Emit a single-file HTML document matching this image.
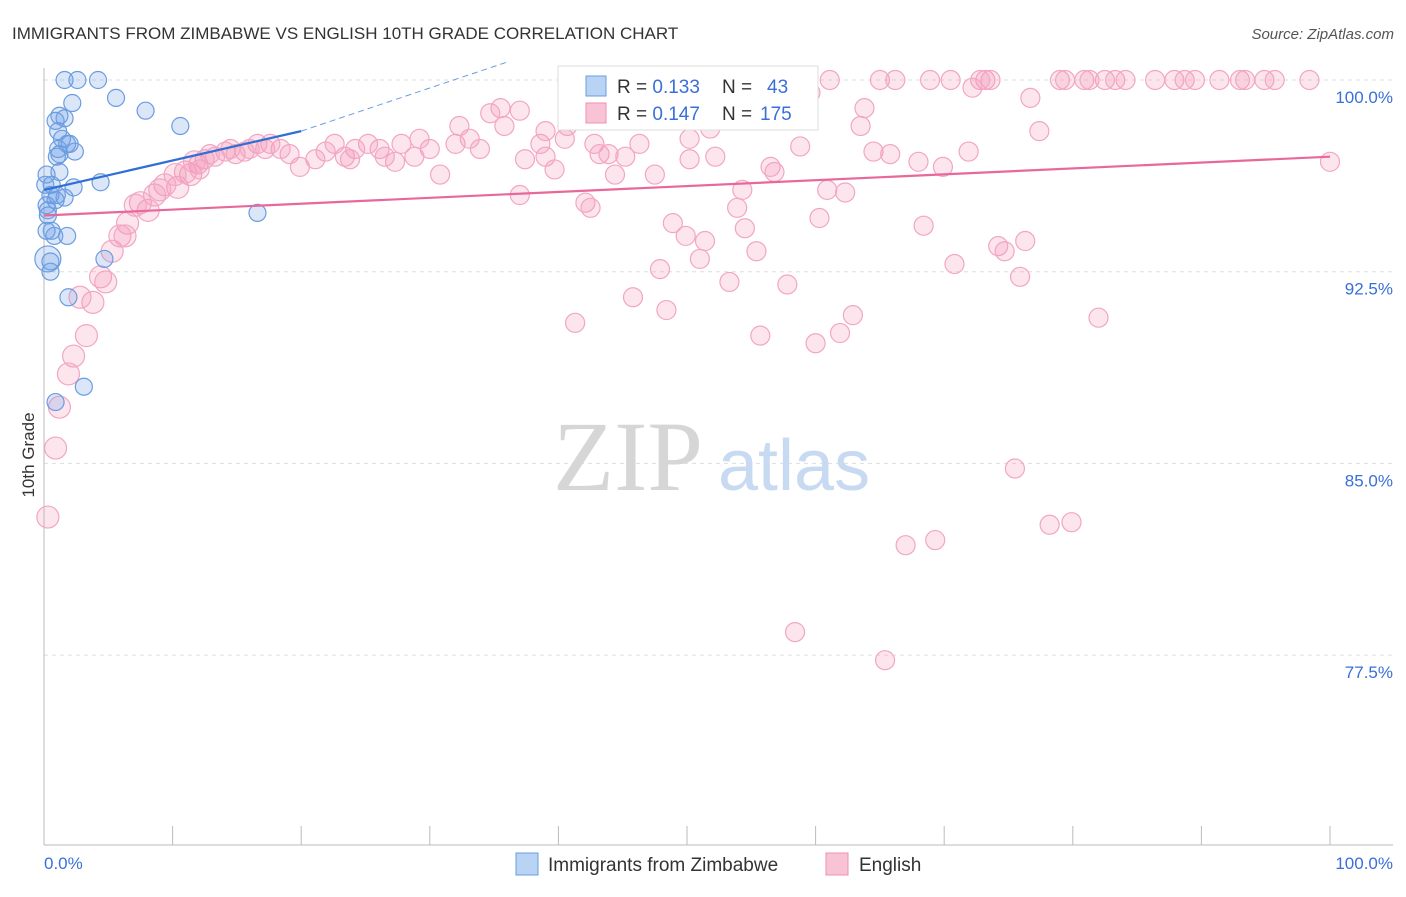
<!DOCTYPE html>
<html><head><meta charset="utf-8"><style>
body{margin:0;background:#fff;font-family:"Liberation Sans",sans-serif;}
</style></head><body>
<svg width="1406" height="892" viewBox="0 0 1406 892" xmlns="http://www.w3.org/2000/svg" font-family="Liberation Sans, sans-serif">
<text x="12" y="39" font-size="17" fill="#333">IMMIGRANTS FROM ZIMBABWE VS ENGLISH 10TH GRADE CORRELATION CHART</text>
<text x="1394" y="39" font-size="15" fill="#555" font-style="italic" text-anchor="end">Source: ZipAtlas.com</text>
<g id="grid"></g>
<g>
<text x="553" y="490" font-size="100" fill="#d6d6d6" style="font-family:'Liberation Serif',serif">ZIP</text>
<text x="718" y="490" font-size="72" fill="#c8daf2">atlas</text>
</g>
<line x1="44" y1="68" x2="44" y2="845" stroke="#bbb"/>
<line x1="44" y1="845" x2="1393" y2="845" stroke="#bbb"/>
<g id="xticks"></g>
<g id="ylabels"></g>
<text x="44" y="869" font-size="17" fill="#3a6fd8">0.0%</text>
<text x="1393" y="869" font-size="17" fill="#3a6fd8" text-anchor="end">100.0%</text>
<text transform="translate(34,455) rotate(-90)" font-size="17" fill="#333" text-anchor="middle">10th Grade</text>
<g id="pink"></g>
<g id="blue"></g>
<g id="trends"></g>
<g>
<rect x="558" y="66" width="260" height="64" fill="#fff" stroke="#ddd"/>
<rect x="586" y="76" width="20" height="20" fill="#b9d3f5" stroke="#6a9de0"/>
<text x="617" y="93" font-size="19" fill="#333">R = <tspan fill="#3a6fd8">0.133</tspan></text>
<text x="722" y="93" font-size="19" fill="#333">N =</text>
<text x="767" y="93" font-size="19" fill="#3a6fd8">43</text>
<rect x="586" y="103" width="20" height="20" fill="#f9c3d6" stroke="#ef8fb2"/>
<text x="617" y="120" font-size="19" fill="#333">R = <tspan fill="#3a6fd8">0.147</tspan></text>
<text x="722" y="120" font-size="19" fill="#333">N =</text>
<text x="760" y="120" font-size="19" fill="#3a6fd8">175</text>
</g>
<g>
<rect x="516" y="853" width="22" height="22" fill="#b9d3f5" stroke="#6a9de0"/>
<text x="548" y="871" font-size="19" fill="#333">Immigrants from Zimbabwe</text>
<rect x="826" y="853" width="22" height="22" fill="#f9c3d6" stroke="#ef8fb2"/>
<text x="859" y="871" font-size="19" fill="#333">English</text>
</g>
</svg>
<script>
const yTicks=[100,92.5,85,77.5];
const yTickLabels=["100.0%","92.5%","85.0%","77.5%"];
const xTicks=[0,10,20,30,40,50,60,70,80,90,100];
const blueX=[1.6,2.6,4.2,5.6,7.9,2.2,1.2,1.6,0.9,1.1,1.8,1.1,1.2,2.4,1.0,0.2,1.2,0.6,0.1,0.5,1.0,1.6,2.3,4.4,10.6,0.3,0.2,0.3,0.6,0.8,1.8,0.3,0.5,0.5,1.9,4.7,3.1,0.9,16.6,0.2,1.4,2.0,0.9];
const blueY=[100,100,100,99.3,98.8,99.1,98.6,98.5,98.4,98.0,97.5,97.3,97.1,97.2,97.0,96.3,96.4,95.9,95.9,95.5,95.5,95.4,95.8,96.0,98.2,94.9,95.1,94.7,94.1,93.9,93.9,93.0,92.9,92.5,91.5,93.0,88.0,87.4,94.8,94.1,97.7,97.5,95.3];
const pinkX=[57.2,61.1,65.0,66.2,68.9,70.5,73.2,73.6,79.0,79.4,80.9,81.3,82.5,83.3,84.1,86.4,87.9,88.7,89.5,91.4,93.0,93.4,94.9,95.7,98.4,72.8,
100,77.4,76.7,72.2,63.8,63.5,59.6,51.8,40.7,38.6,35.5,35.8,34.7,32.3,32.0,30.8,30.0,28.8,27.8,27.3,26.1,25.2,24.2,23.4,22.6,21.9,21.1,19.9,19.1,18.4,17.6,16.6,15.6,14.9,14.1,13.3,12.5,12.0,11.4,11.0,10.4,9.4,8.6,8.1,7.5,6.5,5.9,5.3,4.4,4.8,3.8,2.8,3.3,2.3,1.9,1.2,0.9,0.3,
37.0,37.4,39.0,39.7,40.5,42.8,43.2,43.9,45.2,44.4,46.3,47.5,50.2,52.2,51.8,54.3,53.9,54.5,55.4,53.3,56.5,56.8,58.8,60.9,62.3,60.3,64.5,65.8,68.0,69.9,71.9,68.4,70.8,74.2,74.7,76.3,75.9,82.0,62.9,61.9,60.0,55.7,57.8,51.0,51.4,49.9,48.9,47.9,48.4,45.8,41.3,42.1,42.5,75.5,78.2,79.9,69.3,67.0,58.4,65.4,
50.2,53.0,45.6,57.2,37.0,39.0,33.1,33.9,26.5,23.8,29.2,17.2,16.0,14.5,12.9,12.1,11.7,10.2,9.0,7.1,6.3];
const pinkY=[100,100,100,100,100,100,100,100,100,100,100,100,100,100,100,100,100,100,100,100,100,100,100,100,100,100,
96.8,98.0,99.3,99.7,98.9,98.2,99.5,99.0,98.2,97.5,98.9,98.2,98.7,98.2,97.5,96.3,97.3,97.0,97.5,96.8,97.3,97.5,97.3,97.0,97.5,97.2,96.9,96.6,97.1,97.3,97.5,97.5,97.2,97.1,97.2,97.0,96.9,96.7,96.3,96.4,95.8,95.9,95.5,94.9,95.2,94.4,93.9,93.3,92.3,92.1,91.3,91.5,90.0,89.2,88.5,87.2,85.6,82.9,
95.5,96.9,97.0,96.5,97.7,97.5,97.1,97.1,97.0,96.3,97.5,96.3,96.9,97.0,98.1,95.7,95.0,94.2,93.3,92.1,96.6,96.4,97.4,95.7,95.6,94.6,97.2,97.1,96.8,96.6,97.2,94.3,92.8,93.5,93.3,93.7,92.3,90.7,90.8,90.1,89.7,90.0,92.0,93.0,93.7,93.9,94.4,92.6,91.0,91.5,90.5,95.2,95.0,84.8,82.6,82.7,82.0,81.8,78.4,77.3,
97.7,98.5,99.3,99.3,98.8,98.0,97.7,97.3,97.0,96.9,97.7,97.3,97.3,97.3,97.1,96.5,96.8,96.3,95.7,95.1,93.9];
const blueTrend=[95.7,98.0];
const blueTrendDash=[98.0,100.7];
const pinkTrend=[94.7,97.0];
const NS="http://www.w3.org/2000/svg";
const X=v=>44+v*12.86;
const Y=v=>80+(100-v)*25.56;
function mk(tag,attrs,parent){const e=document.createElementNS(NS,tag);for(const k in attrs)e.setAttribute(k,attrs[k]);parent.appendChild(e);return e;}
const grid=document.getElementById('grid'),yl=document.getElementById('ylabels'),xt=document.getElementById('xticks');
yTicks.forEach((t,i)=>{
 const l=mk('line',{x1:44,x2:1393,y1:Y(t),y2:Y(t),stroke:'#ddd','stroke-dasharray':'4,4'},grid);
 
 
 const tx=mk('text',{x:1393,y:Y(t)+23,'font-size':17,fill:'#3a6fd8','text-anchor':'end'},yl);
 tx.textContent=yTickLabels[i];
 
 
});
xTicks.forEach(t=>{
 const l=mk('line',{x1:X(t),x2:X(t),y1:826,y2:845,stroke:'#bbb'},xt);
 
 
});
const pg=document.getElementById('pink');
pinkX.forEach((x,i)=>{
 const r=x<12?11:9.5;
 const c=mk('circle',{cx:X(x),cy:Y(pinkY[i]),r:r,fill:'rgba(244,150,185,0.25)',stroke:'#f2a6c3','stroke-width':1.2},pg);
 
 
});
const bg=document.getElementById('blue');
blueX.forEach((x,i)=>{
 const r=(i===31)?13:8.5;
 const c=mk('circle',{cx:X(x),cy:Y(blueY[i]),r:r,fill:'rgba(110,160,230,0.25)',stroke:'#6a9de0','stroke-width':1.2},bg);
 
 
});
const tg=document.getElementById('trends');
const pt=mk('line',{x1:X(0),y1:Y(pinkTrend[0]),x2:X(100),y2:Y(pinkTrend[1]),stroke:'#e8689a','stroke-width':2.2},tg);


const bt=mk('line',{x1:X(0),y1:Y(blueTrend[0]),x2:X(20),y2:Y(blueTrend[1]),stroke:'#2f6fd6','stroke-width':2.2},tg);


const bd=mk('line',{x1:X(20),y1:Y(blueTrendDash[0]),x2:X(36),y2:Y(blueTrendDash[1]),stroke:'#6a9de0','stroke-width':1,'stroke-dasharray':'6,4'},tg);


</script>
</body></html>
